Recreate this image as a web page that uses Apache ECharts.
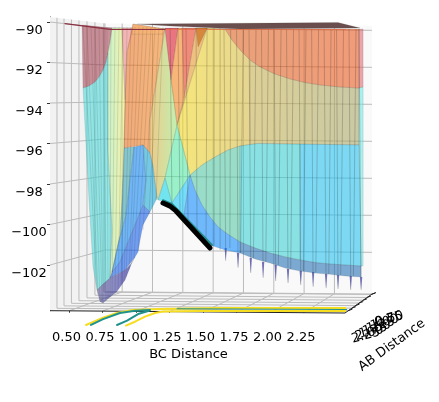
<!DOCTYPE html>
<html><head><meta charset="utf-8">
<style>html,body{margin:0;padding:0;background:#fff}#c{width:439px;height:402px}</style>
<script src="https://cdn.jsdelivr.net/npm/echarts@6/dist/echarts.min.js"></script>
</head><body><div id="c"></div>
<script>
// ---------- axis ticks ----------
const bcTicks = [0.5,0.75,1,1.25,1.5,1.75,2,2.25];
const abTicks = [2.25,2,1.75,1.5,1.25,1,0.75,0.5];
const abDepth = [0.127,0.255,0.39,0.527,0.673,0.818,0.98,1];
const energyTicks = [-90,-92,-94,-96,-98,-100,-102];
const bcMin = 0.358, bcMax = 2.559, energyMin = -104.256, energyMax = -89.753;

// ---------- filled energy bands: [BC distance, energy] ----------
const rose = [[.597,-90.15],[.821,-90.30],[.806,-90.99],[.791,-91.53],[.776,-91.98],[.754,-92.37],[.724,-92.72],[.694,-92.96],[.649,-93.16],[.604,-93.26]];
const leftTeal = [[.604,-93.26],[.649,-93.16],[.694,-92.96],[.724,-92.72],[.754,-92.37],[.776,-91.98],[.791,-91.53],[.791,-96.32],[.821,-100.27],[.806,-102.64],[.709,-103.23],[.679,-102.10],[.649,-98.79]];
const leftPale = [[.791,-91.53],[.806,-90.99],[.821,-90.30],[.895,-90.30],[.918,-93.85],[.910,-96.22],[.895,-98.79],[.880,-100.52],[.821,-102.35],[.806,-102.64],[.821,-100.27],[.791,-96.32]];
const pink = [[.895,-90.30],[.977,-90.30],[.933,-91.48],[.918,-93.85]];
const orange = [[.977,-90.10],[1.216,-90.35],[1.104,-94.84],[1.104,-96.47],[1.052,-96.07],[.910,-96.22],[.918,-93.85],[.933,-91.48]];
const peachTop = [[.977,-90.10],[1.216,-90.35],[1.201,-90.60],[.970,-90.60]];
const yellowWedge = [[1.216,-90.35],[1.306,-95.09],[1.216,-97.70],[1.164,-98.79],[1.157,-98.69],[1.127,-97.16],[1.104,-96.47],[1.104,-94.84]];
const redWedge = [[1.216,-90.30],[1.313,-90.30],[1.261,-92.86]];
const orangeWedge = [[1.313,-90.30],[1.343,-90.30],[1.358,-93.75],[1.306,-95.09],[1.261,-92.86]];
const salmonWedge = [[1.343,-90.30],[1.448,-90.30],[1.358,-93.75]];
const tanWedge = [[1.448,-90.30],[1.530,-90.30],[1.306,-95.09],[1.358,-93.75]];
const tanTip = [[1.448,-90.30],[1.530,-90.30],[1.463,-91.23]];
const yellowMain = [[1.530,-90.30],[1.664,-90.35],[1.716,-90.89],[1.776,-91.38],[1.851,-91.88],[1.851,-96.05],[1.776,-96.12],[1.686,-96.32],[1.589,-96.67],[1.492,-97.06],[1.403,-97.56],[1.306,-95.09]];
const khaki = [[1.851,-91.88],[1.925,-92.22],[2.037,-92.57],[2.149,-92.81],[2.261,-92.99],[2.373,-93.11],[2.522,-93.21],[2.664,-93.26],[2.664,-96.07],[2.127,-96.02],[1.910,-96.00],[1.851,-96.05]];
const orangeRight = [[1.664,-90.35],[2.664,-90.35],[2.664,-93.26],[2.522,-93.21],[2.373,-93.11],[2.261,-92.99],[2.149,-92.81],[2.037,-92.57],[1.925,-92.22],[1.851,-91.88],[1.776,-91.38],[1.716,-90.89]];
const stripPink = [[2.664,-90.35],[2.694,-90.35],[2.694,-93.21],[2.664,-93.26]];
const stripCyan = [[2.664,-93.26],[2.694,-93.21],[2.694,-102.05],[2.679,-102.05],[2.664,-96.07]];
const greenWedge = [[1.306,-95.09],[1.403,-97.56],[1.268,-98.94],[1.216,-97.70]];
const cyanDiamond = [[1.216,-97.70],[1.268,-98.94],[1.164,-98.79]];
const tealGreen = [[1.403,-97.56],[1.492,-97.06],[1.589,-96.67],[1.686,-96.32],[1.776,-96.12],[1.776,-100.86],[1.694,-100.52],[1.612,-100.12],[1.552,-99.63],[1.492,-99.04],[1.440,-98.30]];
const cyanWedge = [[1.403,-97.56],[1.351,-99.78],[1.268,-98.94]];
const blueBand = [[1.403,-97.56],[1.440,-98.30],[1.492,-99.04],[1.552,-99.63],[1.612,-100.12],[1.694,-100.52],[1.776,-100.86],[1.776,-101.41],[1.664,-101.26],[1.552,-101.01],[1.351,-99.78]];
const cyanMid = [[1.776,-96.12],[1.851,-96.05],[1.910,-96.00],[2.127,-96.02],[2.224,-96.03],[2.224,-101.75],[2.112,-101.60],[2.000,-101.41],[1.888,-101.16],[1.776,-100.86]];
const cyanRight = [[2.224,-96.03],[2.664,-96.07],[2.679,-102.05],[2.448,-101.95],[2.336,-101.88],[2.224,-101.75]];
const steel = [[1.776,-100.86],[1.888,-101.16],[2.000,-101.41],[2.112,-101.60],[2.224,-101.75],[2.336,-101.88],[2.448,-101.95],[2.679,-102.05],[2.679,-102.59],[2.559,-102.54],[2.448,-102.46],[2.336,-102.40],[2.224,-102.30],[2.112,-102.15],[2.000,-101.90],[1.888,-101.70],[1.776,-101.41]];
const bodyA = [[.910,-96.22],[.985,-96.17],[.955,-97.80],[.925,-99.53],[.866,-101.01],[.821,-102.35],[.880,-100.52],[.895,-98.79]];
const bodyB = [[.985,-96.17],[1.052,-96.07],[1.074,-97.80],[1.052,-99.04],[.992,-100.02],[.880,-101.85],[.821,-102.35],[.866,-101.01],[.925,-99.53],[.955,-97.80]];
const bodyC = [[1.052,-96.07],[1.104,-96.47],[1.127,-97.16],[1.142,-97.95],[1.157,-98.69],[1.104,-99.38],[1.052,-99.04],[1.074,-97.80]];
const bodyD = [[1.052,-99.04],[1.104,-99.38],[1.052,-100.02],[1.030,-100.76],[1.015,-101.36],[.992,-101.60],[.918,-102.25],[.806,-102.64],[.821,-102.35],[.880,-101.85],[.992,-100.02]];
const purple = [[.709,-103.23],[.754,-102.94],[.806,-102.64],[.866,-102.44],[.918,-102.25],[.962,-101.95],[.992,-101.60],[.968,-101.90],[.918,-102.74],[.856,-103.32],[.806,-103.58],[.754,-103.88],[.731,-103.81]];
const backStrip = [[1.007,-90.10],[2.507,-90.02],[2.671,-90.30],[1.776,-90.35],[1.254,-90.20]];
const edgeRed = [[.470,-90.08],[.806,-90.36],[1.216,-90.37]];
const edgeOrange = [[1.216,-90.37],[2.694,-90.37]];

// ---------- mesh lines: BC distance and energy at each end ----------
const meshLeftTopBc = [.604,.634,.664,.694,.724,.754,.783,.813,.843,.873,.903,.933,.962,.992,1.022,1.052,1.082,1.112,1.142,1.171,1.201];
const meshLeftEndBc = [.709,.716,.731,.746,.754,.776,.791,.806,.821,.843,.866,.888,.910,.925,.948,.962,.985,1.015,1.052,1.097,1.149];
const meshLeftEndE = [-103.23,-103.43,-103.68,-103.83,-103.88,-103.78,-103.68,-103.58,-103.48,-103.33,-103.18,-102.99,-102.79,-102.59,-102.25,-101.95,-101.65,-101.26,-100.27,-99.48,-98.79];
const meshMidTopBc = [1.254,1.313,1.373,1.448,1.530,1.582,1.627];
const meshMidEndBc = [1.268,1.328,1.388,1.455,1.522,1.582,1.627];
const meshMidEndE = [-98.94,-99.38,-99.88,-100.37,-100.76,-101.06,-101.26];
const meshRightTopBc = [1.656,1.750,1.843,1.936,2.030,2.123,2.216,2.310,2.403,2.496,2.589,2.664];
const meshRightEndBc = [1.669,1.761,1.856,1.948,2.042,2.134,2.229,2.321,2.418,2.507,2.602,2.679];
const meshRightEndE = [-101.79,-102.13,-102.39,-102.63,-102.79,-102.89,-102.99,-103.07,-103.14,-103.18,-103.23,-103.23];
const meshBackTopBc = [1.706,1.800,1.895,1.988,2.082,2.175,2.268,2.362,2.455,2.548,2.641];
const meshBackEndBc = [1.700,1.780,1.876,1.968,2.062,2.154,2.249,2.341,2.438,2.527,2.622];
const spikeBaseE = [-101.16,-101.41,-101.65,-101.85,-102.00,-102.20,-102.30,-102.35,-102.44,-102.49,-102.54,-102.59];

// ---------- lines ----------
const pathBlack = [[1.201,-98.94],[1.254,-99.09],[1.298,-99.33],[1.552,-101.16]];
const pathTeal = [[1.201,-98.80],[1.268,-98.98],[1.567,-101.01]];
const contourYellowA = [[.627,-104.96],[.754,-104.60],[.858,-104.37],[.977,-104.22],[1.179,-104.17],[1.627,-104.12],[2.694,-104.12]];
const contourYellowB = [[.925,-104.99],[.992,-104.80],[1.067,-104.55],[1.142,-104.37],[1.201,-104.30],[1.477,-104.27],[2.671,-104.27]];
const contourTealA = [[.664,-104.96],[.754,-104.67],[.880,-104.37],[.992,-104.26],[1.104,-104.22]];
const contourTealB = [[.858,-104.96],[.933,-104.75],[1.015,-104.42],[1.097,-104.26]];
const contourTealC = [[1.306,-104.16],[2.694,-104.20]];

// ---------- styles ----------
const ALPHA = 0.55, BG = 247;
function under(hex){ // fill that gives the seen colour once laid translucent on the pane
  const v=[1,3,5].map(i=>parseInt(hex.substr(i,2),16));
  const f=v.map(c=>Math.max(0,Math.min(255,Math.round((c-(1-ALPHA)*BG)/ALPHA))));
  return `rgba(${f[0]},${f[1]},${f[2]},${ALPHA})`;
}
function paint(c){
  if(Array.isArray(c)) return new echarts.graphic.LinearGradient(0,0,1,0,[{offset:0,color:under(c[0])},{offset:1,color:under(c[1])}]);
  return c[0]==='#'?under(c):c;
}
const bands = [
 [rose,'#c98f98'],[leftTeal,'#94e6e6'],[leftPale,['#c8f2cc','#f4f0a8']],[pink,'#f2b4b4'],
 [orange,['#f0a878','#f4b87c']],[peachTop,'#f8d2ae'],[yellowWedge,['#ecc888','#c0f0b0']],
 [redWedge,'#e87480'],[orangeWedge,'#f6b478'],[salmonWedge,'#f08a78'],[tanWedge,'#eec080'],[tanTip,'#d8a070'],
 [yellowMain,['#f6e678','#e4d490']],[khaki,['#dccf94','#c8c8a4']],[orangeRight,['#e8a078','#f09a78']],
 [stripPink,'#e8a4a8'],[stripCyan,'#a8f0f0'],[greenWedge,'#98f0c8'],[cyanDiamond,'#70e4f0'],
 [tealGreen,'#98dcc8'],[cyanWedge,'#74dcf8'],[blueBand,'#6cb8ff'],[cyanMid,'#88e0e2'],[cyanRight,'#7cd8f2'],[steel,'#7ba8d0'],
 [bodyA,'#84c4cc'],[bodyB,'#5cb4f4'],[bodyC,'#74c8e4'],[bodyD,'#5c9cf0'],[purple,['#9c9cc4','#7272c4']],
 [backStrip,'rgb(106,78,78)']
];

// projection of the box: depth t=0 at the front plane, t=1 at the back wall, in axis values
function project(bc,t,e){
  const xB=0.768+(bc-bcMin)*0.905, yB=-90.296+(e+90)*0.9136;
  return [bc+(xB-bc)*t, e+(yB-e)*t-0.052*(bc-bcMin)];
}
const panes = [
 {pts:[project(bcMin,0,energyMax),project(bcMin,1,energyMax),project(bcMin,1,energyMin),project(bcMin,0,energyMin)],fill:'#f2f2f2'},
 {pts:[project(bcMin,1,energyMax),project(bcMax,1,energyMax),project(bcMax,1,energyMin),project(bcMin,1,energyMin)],fill:'#f9f9f9'},
 {pts:[project(bcMin,0,energyMin),project(bcMax,0,energyMin),project(bcMax,1,energyMin),project(bcMin,1,energyMin)],fill:'#f5f5f5'}
];
const GRID='#bcbcbc';
const grids=[];
bcTicks.forEach(b=>{grids.push([project(b,0,energyMin),project(b,1,energyMin),project(b,1,energyMax)]);});
abDepth.forEach(t=>{grids.push([project(bcMax,t,energyMin),project(bcMin,t,energyMin),project(bcMin,t,energyMax)]);});
energyTicks.forEach(e=>{grids.push([project(bcMin,0,e),project(bcMin,1,e),project(bcMax,1,e)]);});
const edges=[[project(bcMin,0,energyMin),project(bcMax,0,energyMin),project(bcMax,1,energyMin)]];

const meshLeft=[], mesh=[];
meshLeftTopBc.forEach((b,i)=>meshLeft.push([[b,-90.25],[meshLeftEndBc[i],meshLeftEndE[i]]]));
meshMidTopBc.forEach((b,i)=>mesh.push([[b,-90.3],[meshMidEndBc[i],meshMidEndE[i]]]));
meshRightTopBc.forEach((b,i)=>mesh.push([[b,-90.35],[meshRightEndBc[i],meshRightEndE[i]]]));
meshBackTopBc.forEach((b,i)=>mesh.push([[b,-90.35],[meshBackEndBc[i],spikeBaseE[i]]]));

function polyItem(pts,style,closed){return {pts,style,closed};}
const wallItems=[
 ...panes.map(p=>polyItem(p.pts,{fill:p.fill},true)),
 ...grids.map(g=>polyItem(g,{fill:null,stroke:GRID,lineWidth:1},false)),
];
const edgeItems=edges.map(g=>polyItem(g,{fill:null,stroke:'#222',lineWidth:1},false));
const bandItems=bands.map(b=>polyItem(b[0],{fill:paint(b[1]),stroke:'rgba(50,50,50,0.2)',lineWidth:0.6},true));
const meshItems=[
 ...meshLeft.map(m=>polyItem(m,{fill:null,stroke:'rgba(40,40,40,0.17)',lineWidth:0.8},false)),
 ...mesh.map(m=>polyItem(m,{fill:null,stroke:'rgba(40,40,40,0.3)',lineWidth:0.8},false))
];

function shapes(items,z){
  return {type:'custom',coordinateSystem:'cartesian2d',z,silent:true,clip:false,animation:false,
    data:items.map(it=>it.pts[0]),
    renderItem(params,api){
      const it=items[params.dataIndex];
      const points=it.pts.map(p=>api.coord(p));
      return {type:it.closed?'polygon':'polyline',shape:{points},style:it.style};
    }};
}
const spikes={type:'custom',coordinateSystem:'cartesian2d',z:3,silent:true,clip:false,animation:false,
  data:meshRightEndBc.map((b,i)=>[b,meshRightEndE[i],spikeBaseE[i]]),
  renderItem(params,api){
    const tip=api.coord([api.value(0),api.value(1)]), base=api.coord([api.value(0),api.value(2)]);
    return {type:'polygon',shape:{points:[[base[0]-1.2,base[1]],[base[0]+1.2,base[1]],tip]},style:{fill:'rgba(92,92,190,0.8)'}};
  }};
const abTickSeries={type:'custom',coordinateSystem:'cartesian2d',z:3,silent:true,clip:false,animation:false,
  data:abTicks.map((a,i)=>[bcMax,abDepth[i],a]),
  renderItem(params,api){
    const t=api.value(1), p=api.coord(project(bcMax,t,energyMin));
    return {type:'group',children:[
      {type:'line',shape:{x1:p[0],y1:p[1],x2:p[0]+4,y2:p[1]-1.5},style:{stroke:'#222',lineWidth:1}},
      {type:'text',x:p[0]+17.5,y:p[1]+25,rotation:0.27,style:{text:api.value(2).toFixed(2),font:'13px "DejaVu Sans"',fill:'#000',align:'center',verticalAlign:'middle'}}
    ]};
  }};
const abName={type:'custom',coordinateSystem:'cartesian2d',z:3,silent:true,clip:false,animation:false,
  data:[[2.909,-105.96]],
  renderItem(params,api){
    const p=api.coord([api.value(0),api.value(1)]);
    return {type:'text',x:p[0],y:p[1],rotation:0.63,style:{text:'AB Distance',font:'13px "DejaVu Sans"',fill:'#000',align:'center',verticalAlign:'middle'}};
  }};
function line(data,color,width,z){
  return {type:'line',data,z,clip:false,silent:true,symbol:'none',animation:false,smooth:false,
    lineStyle:{color,width,cap:'round',join:'round'}};
}
const chart=echarts.init(document.getElementById('c'),null,{renderer:'canvas'});
chart.setOption({
  animation:false,backgroundColor:'#fff',
  textStyle:{fontFamily:'"DejaVu Sans"'},
  grid:{left:50,top:17,width:295,height:293.7,containLabel:false},
  xAxis:{type:'value',min:bcMin,max:bcMax,splitLine:{show:false},
    axisLine:{show:false},
    axisTick:{show:true,length:2,customValues:bcTicks,lineStyle:{color:'#222'}},
    axisLabel:{customValues:bcTicks,margin:20,fontSize:13,color:'#000',padding:[0,5,0,0],
      formatter:v=>v.toFixed(2),hideOverlap:false,showMinLabel:true,showMaxLabel:true},
    name:'BC Distance',nameLocation:'middle',nameGap:37,
    nameTextStyle:{fontSize:13,color:'#000',padding:[0,18,0,0]}},
  yAxis:{type:'value',min:energyMin,max:energyMax,splitLine:{show:false},
    axisLine:{show:true,onZero:false,lineStyle:{color:'#333',width:1}},
    axisTick:{show:true,length:3,customValues:energyTicks,lineStyle:{color:'#333'}},
    axisLabel:{customValues:energyTicks,margin:21,fontSize:13,color:'#000',align:'center',verticalAlign:'top',padding:[2,0,0,0],
      formatter:v=>'\u2212'+Math.abs(v)}},
  series:[
    shapes(wallItems,1),
    spikes,
    shapes(bandItems,4),
    shapes(meshItems,5),
    line(edgeOrange,'rgba(226,110,70,0.8)',1,6),
    line(edgeRed,'#8a3040',1.2,6),
    line(pathTeal,'#1f8f8c',2,6),
    line(pathBlack,'#000',5,7),
    line(contourYellowA,'#f6dd1f',2,8),
    line(contourYellowB,'#f6dd1f',2,8),
    line(contourTealA,'#21918c',2,9),
    line(contourTealB,'#21918c',2,9),
    line(contourTealC,'#21918c',1.2,9),
    shapes(edgeItems,7),
    abTickSeries,
    abName
  ]
});
</script></body></html>
